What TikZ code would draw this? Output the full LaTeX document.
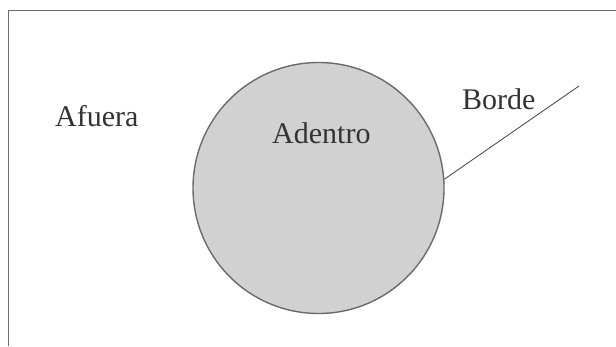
\documentclass[tikz,border=0pt]{standalone}
\usepackage{fontspec}
\setmainfont{Liberation Serif}
\definecolor{regiongray}{gray}{0.82}
\definecolor{edgegray}{gray}{0.42}
\tikzset{
	etiqueta/.style={anchor=base west,inner sep=0pt,font=\fontsize{30}{36}\selectfont,text=black!80},
	region/.style={circle,draw=edgegray,fill=regiongray,line width=1.4pt,minimum size=251pt,inner sep=0pt}
}
\begin{document}
\begin{tikzpicture}[x=1pt,y=-1pt]
	\useasboundingbox (0,0) rectangle (616,346);
	\draw[edgegray,line width=1pt] (8,346)coordinate(marcoa)--(8,10)coordinate(marcob)--(616,10)coordinate(marcoc);
	\node[region] (dentro) at (318.5,188) {};
	\node[etiqueta] (adentro) at (272,143) {Adentro};
	\node[etiqueta] (afuera) at (55,126) {Afuera};
	\node[etiqueta] (borde) at (462,109) {Borde};
	\coordinate (bordefin) at (579,86);
	\draw[black!75,line width=0.8pt] (dentro.4.5)--(bordefin);
\end{tikzpicture}
\end{document}
